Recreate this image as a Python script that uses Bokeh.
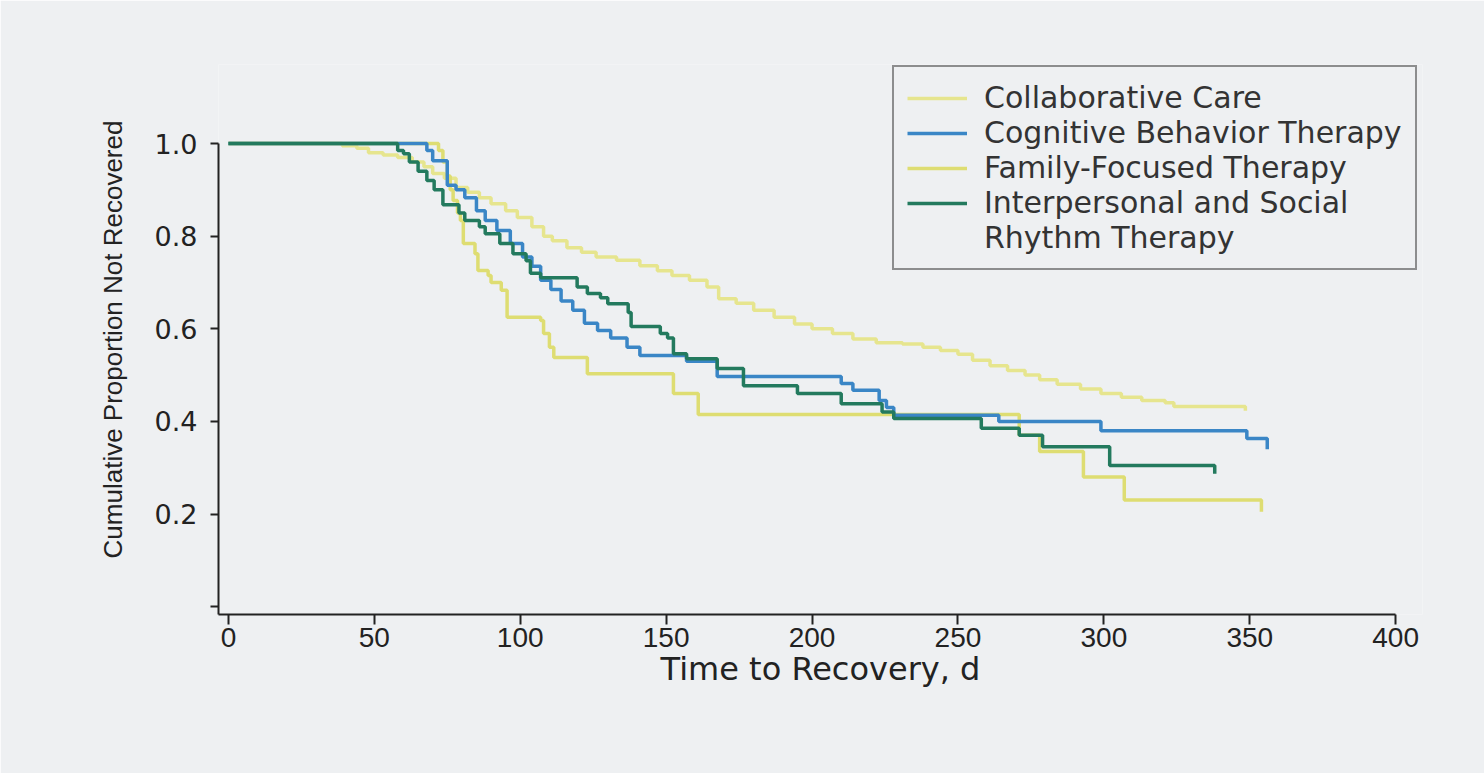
from bokeh.plotting import figure
from bokeh.models import Legend, LegendItem, FixedTicker, Range1d
from bokeh.embed import file_html
from bokeh.resources import INLINE

# ---- data ----
series_names = ["Collaborative Care", "Cognitive Behavior Therapy",
                "Family-Focused Therapy", "Interpersonal and Social\nRhythm Therapy"]

cc_t = [0, 39, 44, 48, 53, 58, 63, 67, 70, 74, 78, 82, 86, 90, 95, 99, 104, 108, 111, 116,
        121, 126, 133, 141, 147, 152, 158, 164, 168, 174, 180, 187, 194, 200, 207, 214, 222,
        231, 238, 244, 250, 255, 261, 267, 273, 278, 284, 292, 299, 306, 313, 321, 324, 348.5]
cc_s = [1.0, 0.995, 0.99, 0.98, 0.975, 0.97, 0.96, 0.95, 0.935, 0.925, 0.905, 0.895, 0.883,
        0.87, 0.855, 0.84, 0.82, 0.80, 0.79, 0.775, 0.765, 0.755, 0.748, 0.736, 0.725, 0.715,
        0.705, 0.69, 0.665, 0.655, 0.64, 0.625, 0.61, 0.60, 0.59, 0.578, 0.57, 0.567, 0.56,
        0.553, 0.545, 0.532, 0.52, 0.51, 0.50, 0.49, 0.48, 0.47, 0.46, 0.452, 0.445, 0.44,
        0.432, 0.423]

cbt_t = [0, 68, 70, 75, 78, 81, 85, 88, 92, 96.6, 100.8, 104, 107, 110.5, 114, 118, 122,
         126.5, 131, 136.6, 141, 157, 167.5, 210, 214, 223, 225.5, 228, 264, 299, 349, 356]
cbt_s = [1.0, 0.985, 0.963, 0.91, 0.90, 0.883, 0.855, 0.834, 0.812, 0.784, 0.755, 0.735,
         0.705, 0.685, 0.66, 0.64, 0.612, 0.596, 0.58, 0.56, 0.542, 0.53, 0.497, 0.482,
         0.467, 0.445, 0.43, 0.413, 0.40, 0.38, 0.363, 0.34]

fft_t = [0, 72, 73.5, 75, 76, 77, 78.5, 79.5, 80.5, 84.5, 85.5, 89, 90, 93.5, 95.5, 107,
         108, 110, 111.5, 123, 152.5, 161, 271, 278, 293, 307, 354]
fft_s = [1.0, 0.985, 0.96, 0.93, 0.90, 0.877, 0.85, 0.834, 0.784, 0.762, 0.726, 0.715,
         0.70, 0.683, 0.625, 0.618, 0.59, 0.56, 0.538, 0.503, 0.46, 0.415, 0.37, 0.335,
         0.28, 0.23, 0.205]

ipsrt_t = [0, 58, 60, 62, 65, 68, 70.5, 73.5, 79, 81, 86, 88, 93, 97.5, 102, 103.5, 107,
           119.5, 123, 127.5, 130, 137, 138, 148, 150.5, 152.5, 157, 167.5, 176.5, 195,
           210, 224, 228, 258, 271, 279, 302, 338]
ipsrt_s = [1.0, 0.985, 0.978, 0.96, 0.94, 0.92, 0.90, 0.868, 0.85, 0.834, 0.82, 0.805,
           0.784, 0.762, 0.747, 0.72, 0.71, 0.69, 0.676, 0.667, 0.654, 0.635, 0.605, 0.59,
           0.58, 0.546, 0.535, 0.514, 0.477, 0.46, 0.438, 0.42, 0.406, 0.385, 0.37, 0.345,
           0.305, 0.287]

x_ticks = [0, 50, 100, 150, 200, 250, 300, 350, 400]
y_ticks = [0, 0.2, 0.4, 0.6, 0.8, 1.0]
y_tick_labels = {0: "", 0.2: "0.2", 0.4: "0.4", 0.6: "0.6", 0.8: "0.8", 1.0: "1.0"}

# ---- styling ----
BG = "#eef0f2"
INK = "#222222"
C_CC = "#e6e58e"
C_CBT = "#3a86c6"
C_FFT = "#dedd72"
C_IPS = "#237a5e"

X0, X1 = -3.4, 400.0      # drawn extent of the x axis
Y0, Y1 = -0.017, 1.0      # drawn extent of the y axis

p = figure(width=1484, height=773, output_backend="svg", toolbar_location=None,
           x_range=Range1d(X0, 409.2), y_range=Range1d(Y0, 1.1706),
           min_border_left=218, min_border_right=62, min_border_top=64,
           min_border_bottom=159, background_fill_color=BG, border_fill_color=BG,
           outline_line_color=None)
p.grid.visible = False

r_cc = p.step(cc_t, cc_s, mode="after", line_color=C_CC, line_width=3.5)
r_fft = p.step(fft_t, fft_s, mode="after", line_color=C_FFT, line_width=3.5)
r_cbt = p.step(cbt_t, cbt_s, mode="after", line_color=C_CBT, line_width=3.5)
r_ips = p.step(ipsrt_t, ipsrt_s, mode="after", line_color=C_IPS, line_width=3.5)
r_dummy = p.line([], [], line_alpha=0)

# axes
for ax in (p.xaxis[0], p.yaxis[0]):
    ax.axis_line_color = INK
    ax.axis_line_width = 2
    ax.major_tick_line_color = INK
    ax.major_tick_line_width = 2
    ax.major_tick_in = 0
    ax.minor_tick_line_color = None
    ax.major_label_text_color = INK
    ax.axis_label_text_color = INK
    ax.axis_label_text_font_style = "normal"

xa = p.xaxis[0]
xa.ticker = FixedTicker(ticks=x_ticks)
xa.bounds = (X0, X1)
xa.major_tick_out = 10
xa.major_label_standoff = 3
xa.major_label_text_font = "Liberation Sans"
xa.major_label_text_font_size = "28px"
xa.axis_label = "Time to Recovery, d"
xa.axis_label_text_font = "DejaVu Sans"
xa.axis_label_text_font_size = "32px"
xa.axis_label_standoff = 0

ya = p.yaxis[0]
ya.ticker = FixedTicker(ticks=y_ticks)
ya.major_label_overrides = y_tick_labels
ya.bounds = (Y0, Y1)
ya.major_tick_out = 8
ya.major_label_standoff = 13
ya.major_label_text_font = "DejaVu Sans"
ya.major_label_text_font_size = "27px"
ya.axis_label = "Cumulative Proportion Not Recovered"
ya.axis_label_text_font = "Liberation Sans"
ya.axis_label_text_font_size = "26px"
ya.axis_label_standoff = 24

items = [
    LegendItem(label=series_names[0], renderers=[r_cc]),
    LegendItem(label=series_names[1], renderers=[r_cbt]),
    LegendItem(label=series_names[2], renderers=[r_fft]),
    LegendItem(label=series_names[3].split("\n")[0], renderers=[r_ips]),
    LegendItem(label=series_names[3].split("\n")[1], renderers=[r_dummy]),
]
legend = Legend(items=items, location=(674, 344), orientation="vertical",
                border_line_color="#2a2a2a", border_line_width=2,
                background_fill_color=BG, background_fill_alpha=1.0,
                padding=13, spacing=0, margin=0, label_standoff=17,
                glyph_width=60, glyph_height=34, label_height=34,
                label_text_font="DejaVu Sans", label_text_font_size="30px",
                label_text_color="#333333")
p.add_layout(legend)

open("out.html", "w").write(file_html(p, INLINE))
